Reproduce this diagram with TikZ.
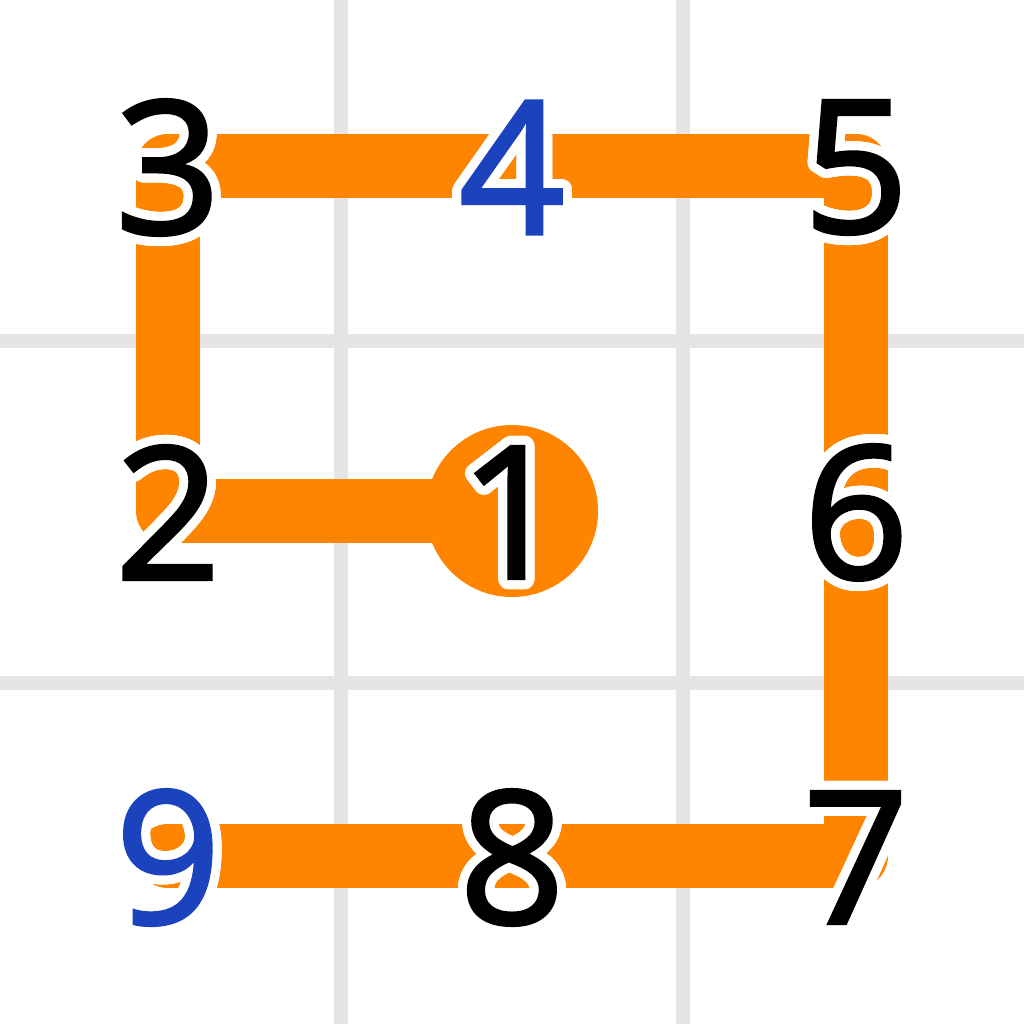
\documentclass[tikz,border=0pt]{standalone}
\usepackage{fontspec}
\setmainfont{Open Sans}
\newfontfamily\digitfont{Open Sans}[RawFeature={embolden=1.8}]
\usepackage{contour}
\contourlength{9pt}
\contournumber{48}
\definecolor{gridgray}{RGB}{229,229,229}
\definecolor{pathorange}{RGB}{255,133,0}
\definecolor{digitblue}{RGB}{28,67,190}
\tikzset{
  gridline/.style={draw=gridgray, line width=14pt},
  route/.style={draw=pathorange, line width=64pt, line join=round, line cap=round},
  digit/.style={inner sep=0pt, yshift=-6pt, font=\digitfont\fontsize{185}{185}\selectfont},
}
\newcommand{\dig}[2]{\contour{white}{\textcolor{#1}{#2}}}
\begin{document}
\begin{tikzpicture}[x=1pt,y=-1pt]
\fill[white] (0,0) rectangle (1024,1024);
\useasboundingbox (0,0) rectangle (1024,1024);
% grid
\coordinate (gv1t) at (341,0); \coordinate (gv1b) at (341,1024);
\coordinate (gv2t) at (683,0); \coordinate (gv2b) at (683,1024);
\coordinate (gh1l) at (0,341); \coordinate (gh1r) at (1024,341);
\coordinate (gh2l) at (0,683); \coordinate (gh2r) at (1024,683);
\draw[gridline] (gv1t) -- (gv1b);
\draw[gridline] (gv2t) -- (gv2b);
\draw[gridline] (gh1l) -- (gh1r);
\draw[gridline] (gh2l) -- (gh2r);
% points
\coordinate (p1) at (512,511);
\coordinate (p2) at (168,511);
\coordinate (p3) at (168,166);
\coordinate (p4) at (512,166);
\coordinate (p5) at (856,166);
\coordinate (p6) at (856,511);
\coordinate (p7) at (856,856);
\coordinate (p8) at (512,856);
\coordinate (p9) at (168,856);
\draw[route] (p1) -- (p2) -- (p3) -- (p4) -- (p5) -- (p6) -- (p7) -- (p8) -- (p9);
\fill[pathorange] (p1) circle (86);
% digits
\node[digit] (n1) at (p1) {\dig{black}{1}};
\node[digit] (n2) at (p2) {\dig{black}{2}};
\node[digit] (n3) at (p3) {\dig{black}{3}};
\node[digit] (n4) at (p4) {\dig{digitblue}{4}};
\node[digit] (n5) at (p5) {\dig{black}{5}};
\node[digit] (n6) at (p6) {\dig{black}{6}};
\node[digit] (n7) at (p7) {\dig{black}{7}};
\node[digit] (n8) at (p8) {\dig{black}{8}};
\node[digit] (n9) at (p9) {\dig{digitblue}{9}};
\end{tikzpicture}
\end{document}
